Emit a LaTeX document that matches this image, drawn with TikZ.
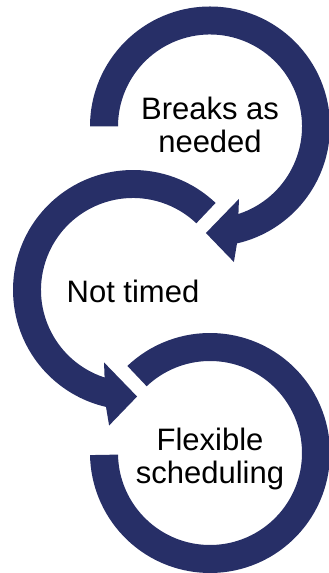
\documentclass[tikz,border=0pt]{standalone}
\usepackage{fontspec}
\setmainfont{Liberation Sans}
\definecolor{ringblue}{RGB}{39,47,103}

\begin{document}
\begin{tikzpicture}[x=1pt,y=1pt,
    ringtext/.style={align=center,font=\fontsize{31}{33.3}\selectfont},
    ring/.style={fill=ringblue,draw=none}]
  \useasboundingbox (0,0) rectangle (329,573);
  \coordinate (c1) at (210,446.5);
  \coordinate (c2) at (133,283);
  \coordinate (c3) at (210,120);

  % top ring, arrow into the middle one
  \fill[ring,shift={(c1)}] (180:120) arc[start angle=180,end angle=-77,radius=120pt]
    -- (-80:137.6) -- (-92.2:106.6) -- (-68.2:78) -- (-72:92)
    arc[start angle=-72,end angle=180,radius=92pt] -- cycle;
  % middle ring, arrow into the bottom one
  \fill[ring,shift={(c2)}] (46.5:120) arc[start angle=46.5,end angle=257,radius=120pt]
    -- (260:137.6) -- (272.2:106.6) -- (248.2:78) -- (252:92)
    arc[start angle=252,end angle=46.5,radius=92pt] -- cycle;
  % bottom ring
  \fill[ring,shift={(c3)}] (133.5:120) arc[start angle=133.5,end angle=-179,radius=120pt]
    -- (-179:92) arc[start angle=-179,end angle=133.5,radius=92pt] -- cycle;

  \node[ringtext,yshift=1.5pt] (breaks) at (c1) {Breaks as\\needed};
  \node[ringtext,yshift=-1pt] (nottimed) at (c2) {Not timed};
  \node[ringtext,yshift=-6pt] (flexible) at (c3) {Flexible\\scheduling};
\end{tikzpicture}
\end{document}
